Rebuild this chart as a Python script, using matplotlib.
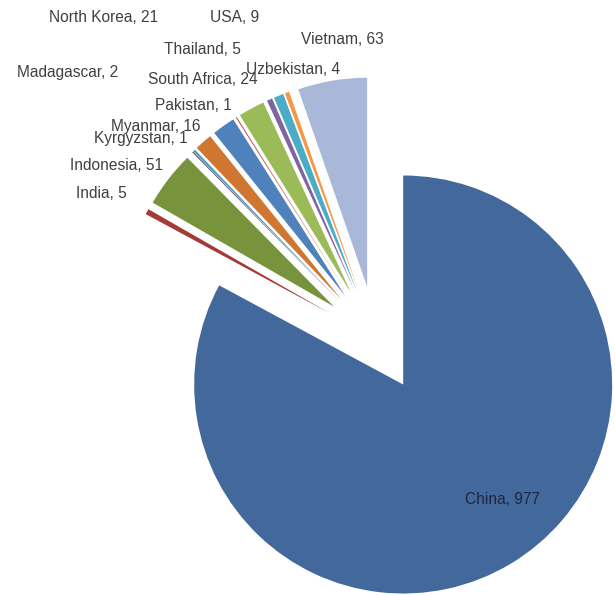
import matplotlib
matplotlib.use("Agg")
import matplotlib.pyplot as plt

countries = ["China", "India", "Indonesia", "Kyrgyzstan", "Madagascar", "Myanmar",
             "North Korea", "Pakistan", "South Africa", "Thailand", "USA",
             "Uzbekistan", "Vietnam"]
values = [977, 5, 51, 1, 2, 16, 21, 1, 24, 5, 9, 4, 63]

colors = ["#43689B", "#A33B38", "#77933C", "#5F497A", "#4A9BB5", "#CF7631",
          "#4F81BD", "#C0504D", "#9BBB59", "#8064A2", "#4BACC6", "#F79646",
          "#A9B8D8"]

# label centre positions in pixel coordinates (x, y from top)
label_pos = [(502, 499), (101, 193), (116, 166), (141, 139), (68, 72),
             (156, 127), (104, 18), (193, 105), (203, 80), (202, 50),
             (235, 17), (293, 70), (342, 40)]

W, H = 615, 595
fig = plt.figure(figsize=(W / 100, H / 100), dpi=100)
ax = fig.add_axes([0, 0, 1, 1])

radius = 209
cx, cy = 376, H - 339
explode = [53] * len(values)   # matplotlib offsets wedges in data units

ax.pie(values, colors=colors, startangle=90, counterclock=False,
       radius=radius, center=(cx, cy), explode=explode,
       wedgeprops=dict(linewidth=0))

for name, v, (px, py) in zip(countries, values, label_pos):
    ax.text(px, H - py, f"{name}, {v}", ha="center", va="center",
            fontsize=11.2, family="Liberation Sans",
            color="#1F2540" if name == "China" else "#404040")

ax.set_xlim(0, W)
ax.set_ylim(0, H)
ax.set_aspect("equal")
ax.axis("off")
fig.savefig("out.png", dpi=100)
